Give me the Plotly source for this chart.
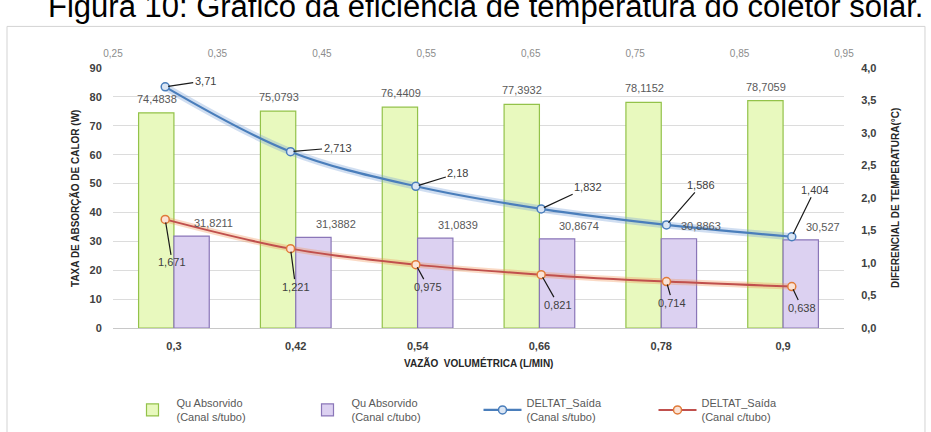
import plotly.graph_objects as go

# Flow rates (L/min)
vazao = [0.3, 0.42, 0.54, 0.66, 0.78, 0.9]
vazao_labels = ["0,3", "0,42", "0,54", "0,66", "0,78", "0,9"]

# Absorbed heat (W)
qu_sem_tubo = [74.4838, 75.0793, 76.4409, 77.3932, 78.1152, 78.7059]
qu_com_tubo = [31.8211, 31.3882, 31.0839, 30.8674, 30.8863, 30.527]

# Outlet temperature difference (°C)
deltat_sem_tubo = [3.71, 2.713, 2.18, 1.832, 1.586, 1.404]
deltat_com_tubo = [1.671, 1.221, 0.975, 0.821, 0.714, 0.638]

FONT = "Liberation Sans, Arial, sans-serif"
BLUE = "#4a7ebb"
RED = "#c0504d"


def br(v):
    return str(v).replace(".", ",")


fig = go.Figure()

fig.add_trace(go.Bar(
    x=vazao_labels, y=qu_sem_tubo, name="Qu Absorvido<br>(Canal s/tubo)",
    marker=dict(color="#e8f9be", line=dict(color="#93c24a", width=1.2)),
))
fig.add_trace(go.Bar(
    x=vazao_labels, y=qu_com_tubo, name="Qu Absorvido<br>(Canal c/tubo)",
    marker=dict(color="#dcd1f1", line=dict(color="#8a76b8", width=1.2)),
))

# soft glow under the lines
fig.add_trace(go.Scatter(
    x=vazao, y=deltat_sem_tubo, xaxis="x2", yaxis="y2", mode="lines",
    line=dict(color="rgba(120,160,215,0.35)", width=7, shape="spline"),
    showlegend=False, hoverinfo="skip",
))
fig.add_trace(go.Scatter(
    x=vazao, y=deltat_com_tubo, xaxis="x2", yaxis="y2", mode="lines",
    line=dict(color="rgba(240,150,90,0.35)", width=6, shape="spline"),
    showlegend=False, hoverinfo="skip",
))

fig.add_trace(go.Scatter(
    x=vazao, y=deltat_sem_tubo, xaxis="x2", yaxis="y2", mode="lines+markers",
    name="DELTAT_Saída<br>(Canal s/tubo)",
    line=dict(color=BLUE, width=2.2, shape="spline"),
    marker=dict(symbol="circle", size=8, color="#dbe6f4", line=dict(color=BLUE, width=1.5)),
))
fig.add_trace(go.Scatter(
    x=vazao, y=deltat_com_tubo, xaxis="x2", yaxis="y2", mode="lines+markers",
    name="DELTAT_Saída<br>(Canal c/tubo)",
    line=dict(color=RED, width=2, shape="spline"),
    marker=dict(symbol="circle", size=8, color="#fbe3d6", line=dict(color="#e07b39", width=1.5)),
))

annotations = []

# bar value labels
for lab, v in zip(vazao_labels, qu_sem_tubo):
    annotations.append(dict(x=lab, y=v, xref="x", yref="y", text=br(v), showarrow=False,
                            yanchor="middle", yshift=14, xshift=-17,
                            font=dict(family=FONT, size=11, color="#595959")))
for lab, v in zip(vazao_labels, qu_com_tubo):
    annotations.append(dict(x=lab, y=v, xref="x", yref="y", text=br(v), showarrow=False,
                            yanchor="middle", yshift=13, xshift=40,
                            font=dict(family=FONT, size=11, color="#595959")))

# line value labels with leader lines
blue_offsets = [(40, -6), (47, -4), (42, -13), (47, -22), (35, -40), (23, -47)]
red_offsets = [(7, 43), (5, 38), (12, 22), (17, 30), (6, 21), (10, 21)]
for xv, v, (ax, ay) in zip(vazao, deltat_sem_tubo, blue_offsets):
    annotations.append(dict(x=xv, y=v, xref="x2", yref="y2", text=br(v), showarrow=True,
                            ax=ax, ay=ay, arrowhead=0, arrowwidth=1.2, arrowcolor="#1a1a1a",
                            standoff=3, font=dict(family=FONT, size=11, color="#404040")))
for xv, v, (ax, ay) in zip(vazao, deltat_com_tubo, red_offsets):
    annotations.append(dict(x=xv, y=v, xref="x2", yref="y2", text=br(v), showarrow=True,
                            ax=ax, ay=ay, arrowhead=0, arrowwidth=1.2, arrowcolor="#1a1a1a",
                            standoff=3, font=dict(family=FONT, size=11, color="#404040")))

# titles
annotations.append(dict(x=0.509, y=1, xref="paper", yref="paper", xanchor="center",
                        yanchor="bottom", yshift=42,
                        text="Figura 10: Gráfico da eficiência de temperatura do coletor solar.",
                        showarrow=False, font=dict(family=FONT, size=31, color="#000000")))
annotations.append(dict(x=-0.052, y=0.5, xref="paper", yref="paper", textangle=-90,
                        xanchor="center", yanchor="middle",
                        text="TAXA DE ABSORÇÃO DE CALOR (W)", showarrow=False,
                        font=dict(family=FONT, size=10, color="#262626", weight="bold")))
annotations.append(dict(x=1.0698, y=0.5, xref="paper", yref="paper", textangle=-90,
                        xanchor="center", yanchor="middle",
                        text="DIFERENCIAL DE TEMPERATURA(°C)", showarrow=False,
                        font=dict(family=FONT, size=10, color="#262626", weight="bold")))
annotations.append(dict(x=0.5, y=-0.135, xref="paper", yref="paper",
                        xanchor="center", yanchor="middle",
                        text="VAZÃO\u00a0\u00a0VOLUMÉTRICA (L/MIN)", showarrow=False,
                        font=dict(family=FONT, size=10, color="#262626", weight="bold")))

fig.update_layout(
    width=931, height=432,
    margin=dict(l=113, r=87, t=68, b=104, autoexpand=False),
    paper_bgcolor="white", plot_bgcolor="white",
    separators=", ",
    barmode="group", bargap=0.42, bargroupgap=0,
    hovermode=False,
    font=dict(family=FONT),
    annotations=annotations,
    shapes=[dict(type="rect", xref="paper", yref="paper",
                 x0=-0.145, x1=1.1108, y0=-0.45, y1=1.16,
                 line=dict(color="#d3d3d3", width=1), fillcolor="rgba(0,0,0,0)", layer="below")],
    xaxis=dict(
        type="category", showgrid=False, showline=True, linecolor="#c8c8c8",
        ticks="outside", ticklen=8, tickcolor="rgba(0,0,0,0)",
        tickfont=dict(family=FONT, size=11, color="#404040", weight="bold"),
    ),
    xaxis2=dict(
        overlaying="x", side="top", anchor="y", range=[0.25, 0.95],
        tick0=0.25, dtick=0.1, tickformat=".2f", showgrid=False, showline=False, zeroline=False,
        ticks="outside", ticklen=6, tickcolor="rgba(0,0,0,0)",
        tickfont=dict(family=FONT, size=10, color="#8c8c8c"),
    ),
    yaxis=dict(
        range=[0, 90], dtick=10, showgrid=True, gridcolor="#dcdcdc", zeroline=False,
        showline=False, ticks="outside", ticklen=8, tickcolor="rgba(0,0,0,0)",
        tickfont=dict(family=FONT, size=11, color="#404040", weight="bold"),
    ),
    yaxis2=dict(
        overlaying="y", side="right", anchor="x2", range=[0, 4], dtick=0.5, tickformat=".1f",
        showgrid=False, zeroline=False, showline=False,
        ticks="outside", ticklen=14, tickcolor="rgba(0,0,0,0)",
        tickfont=dict(family=FONT, size=11, color="#404040", weight="bold"),
    ),
    legend=dict(
        orientation="h", x=0.5, xanchor="center", y=-0.235, yanchor="top",
        entrywidth=122, entrywidthmode="pixels", itemwidth=38,
        font=dict(family=FONT, size=11, color="#595959"),
        bgcolor="rgba(0,0,0,0)",
    ),
)

fig.write_html("out.html")
